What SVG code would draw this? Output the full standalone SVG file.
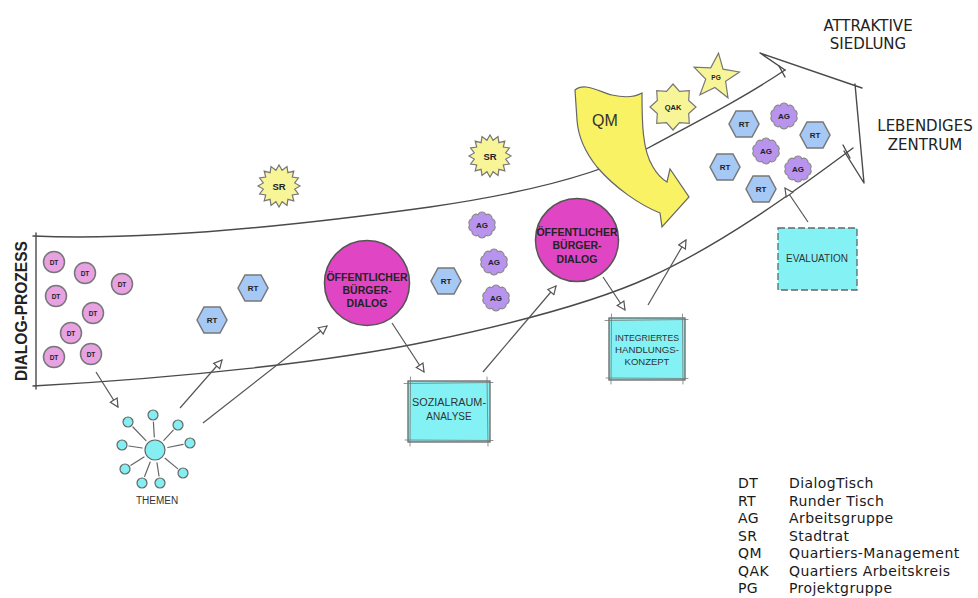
<svg xmlns="http://www.w3.org/2000/svg" width="978" height="598" viewBox="0 0 978 598">
<style>
.ln{fill:none;stroke:#4a4a4a;stroke-width:1.4;stroke-linecap:round;stroke-linejoin:round}
.sk{fill:none;stroke:#777;stroke-width:0.8;stroke-linecap:round}
.conn{fill:none;stroke:#555;stroke-width:1.2;marker-end:url(#ah)}
.dt{fill:#e8a2e2;stroke:#777;stroke-width:1.5}
.rt{fill:#a6c8f4;stroke:#777;stroke-width:1.5}
.ag{fill:#b994ee;stroke:#888;stroke-width:1.1}
.yel{fill:#f8f498;stroke:#777;stroke-width:1.2}
.qm{fill:#f8f264;stroke:#666;stroke-width:1.2}
.od{fill:#e046c4;stroke:#555;stroke-width:1.6}
.box{fill:#84f2f4;stroke:#666;stroke-width:1.3}
.th{fill:#84eef2;stroke:#666;stroke-width:1.2}
.sp{stroke:#666;stroke-width:1.2;stroke-linecap:round}
.b{font-family:"Liberation Sans",Arial,sans-serif;font-weight:bold;fill:#222;text-anchor:middle}
.t{font-family:"Liberation Sans",Arial,sans-serif;fill:#333;text-anchor:middle}
.big{font-family:"DejaVu Sans","Liberation Sans",sans-serif;fill:#222;text-anchor:middle;font-size:15px}
.lg{font-family:"DejaVu Sans","Liberation Sans",sans-serif;fill:#1a1a1a;font-size:14px;letter-spacing:0.4px}
</style>
<defs>
<marker id="ah" viewBox="0 0 10 10" refX="9" refY="5" markerWidth="10" markerHeight="10" markerUnits="userSpaceOnUse" orient="auto">
<path d="M1,1 L9,5 L1,9 Z" fill="#fff" stroke="#555" stroke-width="1.2"/>
</marker>
<path id="hex" d="M-15,0 L-8,-13 L8,-13 L15,0 L8,13 L-8,13 Z"/>
<path id="cloud" d="M12.5,0 A4.2,4.2 0 0 1 10.1,6.3 A4.2,4.2 0 0 1 3.9,10.3 A4.2,4.2 0 0 1 -3.9,10.3 A4.2,4.2 0 0 1 -10.1,6.3 A4.2,4.2 0 0 1 -12.5,0 A4.2,4.2 0 0 1 -10.1,-6.3 A4.2,4.2 0 0 1 -3.9,-10.3 A4.2,4.2 0 0 1 3.9,-10.3 A4.2,4.2 0 0 1 10.1,-6.3 A4.2,4.2 0 0 1 12.5,0 Z"/>
<polygon id="burst" points="21,0 15.7,3.1 19.4,8 13.3,8.9 14.8,14.8 8.9,13.3 8,19.4 3.1,15.7 0,21 -3.1,15.7 -8,19.4 -8.9,13.3 -14.8,14.8 -13.3,8.9 -19.4,8 -15.7,3.1 -21,0 -15.7,-3.1 -19.4,-8 -13.3,-8.9 -14.8,-14.8 -8.9,-13.3 -8,-19.4 -3.1,-15.7 0,-21 3.1,-15.7 8,-19.4 8.9,-13.3 14.8,-14.8 13.3,-8.9 19.4,-8 15.7,-3.1"/>
</defs>
<rect width="978" height="598" fill="#fff"/>

<g id="band">
<path class="ln" d="M33,236 C120,240 250,232 430,207 C520,194 600,175 650,147 C700,120 745,97 785,70"/>
<path class="ln" d="M33,386 C180,378 330,362 430,341 C530,320 600,300 650,277 C720,245 790,195 853,148"/>
<path class="ln" d="M36,233 L36,389"/>
<path class="ln" d="M785,70 L760,53 L862,88 M855,84 L864,183 L844,151"/>
<path class="ln" d="M779,66 L785,77 M843,145 L850,158"/>
</g>

<g id="connectors">
<path class="conn" d="M96,372 L118,407"/>
<path class="conn" d="M180,408 L222,360"/>
<path class="conn" d="M203,423 L327,326"/>
<path class="conn" d="M392,323 L424,372"/>
<path class="conn" d="M483,372 L556,286"/>
<path class="conn" d="M603,277 L625,310"/>
<path class="conn" d="M648,305 L686,240"/>
<path class="conn" d="M808,222 L785,188"/>
</g>

<g id="dialog-prozess-label">
<text class="b" transform="translate(27,311) rotate(-90)" font-size="17" textLength="140" lengthAdjust="spacingAndGlyphs" fill="#111">DIALOG-PROZESS</text>
</g>

<g id="dt-nodes">
<circle class="dt" cx="54" cy="262" r="10.5"/><text class="b" x="54" y="264.5" font-size="6.5">DT</text>
<circle class="dt" cx="85" cy="273" r="10.5"/><text class="b" x="85" y="275.5" font-size="6.5">DT</text>
<circle class="dt" cx="122" cy="284" r="10.5"/><text class="b" x="122" y="286.5" font-size="6.5">DT</text>
<circle class="dt" cx="56" cy="296" r="10.5"/><text class="b" x="56" y="298.5" font-size="6.5">DT</text>
<circle class="dt" cx="93" cy="313" r="10.5"/><text class="b" x="93" y="315.5" font-size="6.5">DT</text>
<circle class="dt" cx="71" cy="333" r="10.5"/><text class="b" x="71" y="335.5" font-size="6.5">DT</text>
<circle class="dt" cx="54" cy="357" r="10.5"/><text class="b" x="54" y="359.5" font-size="6.5">DT</text>
<circle class="dt" cx="91" cy="354" r="10.5"/><text class="b" x="91" y="356.5" font-size="6.5">DT</text>
</g>

<g id="themen">
<circle class="th" cx="155" cy="450" r="10"/>
<line class="sp" x1="146" y1="440.6" x2="132.9" y2="427"/>
<line class="sp" x1="154.3" y1="437" x2="153.4" y2="422"/>
<line class="sp" x1="163.8" y1="440.4" x2="173.3" y2="430.1"/>
<line class="sp" x1="142.2" y1="448" x2="128.9" y2="446"/>
<line class="sp" x1="167.7" y1="447.5" x2="183.1" y2="444.4"/>
<line class="sp" x1="144" y1="457" x2="130.9" y2="465.3"/>
<line class="sp" x1="165" y1="458.3" x2="177.6" y2="468.6"/>
<line class="sp" x1="150.2" y1="462" x2="144.6" y2="476.5"/>
<line class="sp" x1="157" y1="462.8" x2="159" y2="476"/>
<circle class="th" cx="128" cy="422" r="5"/>
<circle class="th" cx="153" cy="415" r="5"/>
<circle class="th" cx="178" cy="425" r="5"/>
<circle class="th" cx="122" cy="445" r="5"/>
<circle class="th" cx="190" cy="443" r="5"/>
<circle class="th" cx="125" cy="469" r="5"/>
<circle class="th" cx="183" cy="473" r="5"/>
<circle class="th" cx="142" cy="483" r="5"/>
<circle class="th" cx="160" cy="483" r="5"/>
<text class="t" x="157" y="504" font-size="10">THEMEN</text>
</g>

<g id="rt-1"><use href="#hex" class="rt" transform="translate(212,320)"/><text class="b" x="212" y="323" font-size="8">RT</text></g>
<g id="rt-2"><use href="#hex" class="rt" transform="translate(253,288)"/><text class="b" x="253" y="291" font-size="8">RT</text></g>

<g id="sr-1"><use href="#burst" class="yel" transform="translate(279,186)"/><text class="b" x="279" y="189.5" font-size="9.5">SR</text></g>
<g id="sr-2"><use href="#burst" class="yel" transform="translate(490,156)"/><text class="b" x="490" y="159.5" font-size="9.5">SR</text></g>

<g id="buergerdialog-1">
<circle class="od" cx="367" cy="283" r="42.5"/>
<text class="b" x="367" y="281" font-size="10.5" fill="#1a1a1a">ÖFFENTLICHER</text>
<text class="b" x="367" y="294" font-size="10.5" fill="#1a1a1a">BÜRGER-</text>
<text class="b" x="367" y="307" font-size="10.5" fill="#1a1a1a">DIALOG</text>
</g>

<g id="rt-3"><use href="#hex" class="rt" transform="translate(446,281)"/><text class="b" x="446" y="284" font-size="8">RT</text></g>
<g id="ag-1"><use href="#cloud" class="ag" transform="translate(482,225)"/><text class="b" x="482" y="228" font-size="8">AG</text></g>
<g id="ag-2"><use href="#cloud" class="ag" transform="translate(494,262)"/><text class="b" x="494" y="265" font-size="8">AG</text></g>
<g id="ag-3"><use href="#cloud" class="ag" transform="translate(496,298)"/><text class="b" x="496" y="301" font-size="8">AG</text></g>

<g id="buergerdialog-2">
<circle class="od" cx="577" cy="240" r="41.5"/>
<text class="b" x="577" y="236" font-size="10.5" fill="#1a1a1a">ÖFFENTLICHER</text>
<text class="b" x="577" y="249" font-size="10.5" fill="#1a1a1a">BÜRGER-</text>
<text class="b" x="577" y="263" font-size="10.5" fill="#1a1a1a">DIALOG</text>
</g>

<g id="sozialraumanalyse">
<rect class="box" x="408" y="381" width="82" height="61"/>
<path class="sk" d="M404,383.5 L493,382.5 M405,440 L493,440.5 M410.5,377 L410,446 M487,377 L488,446"/>
<text class="t" x="449" y="406" font-size="10" textLength="74" lengthAdjust="spacingAndGlyphs">SOZIALRAUM-</text>
<text class="t" x="449" y="420" font-size="10">ANALYSE</text>
</g>

<g id="integriertes-handlungskonzept">
<rect class="box" x="609" y="318" width="76" height="62"/>
<path class="sk" d="M605,320.5 L688,319.5 M606,378 L688,378.5 M611.5,314 L611,384 M682.5,314 L683,384"/>
<text class="t" x="647" y="341" font-size="9.5" textLength="64" lengthAdjust="spacingAndGlyphs">INTEGRIERTES</text>
<text class="t" x="647" y="353" font-size="9.5" textLength="64" lengthAdjust="spacingAndGlyphs">HANDLUNGS-</text>
<text class="t" x="647" y="365" font-size="9.5">KONZEPT</text>
</g>

<g id="qm">
<path class="qm" d="M575,90 C585,82 600,92 612,95 C625,98 635,97 642,93 C642,120 642,150 653,167 C657,174 662,179 667,182 L670,169 L689,197 L662,227 L660,213 C640,205 615,188 597,167 C585,152 578,135 577,120 Z"/>
<text class="t" x="605" y="126" font-size="16" fill="#222">QM</text>
</g>

<g id="qak">
<polygon class="yel" transform="translate(673,107)" points="0,-23 6.5,-15.7 16.3,-16.3 15.7,-6.5 23,0 15.7,6.5 16.3,16.3 6.5,15.7 0,23 -6.5,15.7 -16.3,16.3 -15.7,6.5 -23,0 -15.7,-6.5 -16.3,-16.3 -6.5,-15.7"/>
<text class="b" x="673" y="110" font-size="7.5">QAK</text>
</g>

<g id="pg">
<polygon class="yel" transform="translate(716,77) rotate(6)" points="0,-24 6.2,-8.5 22.8,-7.4 10,3.2 14.1,19.4 0,10.5 -14.1,19.4 -10,3.2 -22.8,-7.4 -6.2,-8.5"/>
<text class="b" x="716" y="80" font-size="6.5">PG</text>
</g>

<g id="rt-4"><use href="#hex" class="rt" transform="translate(744,124)"/><text class="b" x="744" y="127" font-size="8">RT</text></g>
<g id="rt-5"><use href="#hex" class="rt" transform="translate(815,135)"/><text class="b" x="815" y="138" font-size="8">RT</text></g>
<g id="rt-6"><use href="#hex" class="rt" transform="translate(725,167)"/><text class="b" x="725" y="170" font-size="8">RT</text></g>
<g id="rt-7"><use href="#hex" class="rt" transform="translate(761,189)"/><text class="b" x="761" y="192" font-size="8">RT</text></g>
<g id="ag-4"><use href="#cloud" class="ag" transform="translate(784,116)"/><text class="b" x="784" y="119" font-size="8">AG</text></g>
<g id="ag-5"><use href="#cloud" class="ag" transform="translate(766,151)"/><text class="b" x="766" y="154" font-size="8">AG</text></g>
<g id="ag-6"><use href="#cloud" class="ag" transform="translate(798,169)"/><text class="b" x="798" y="172" font-size="8">AG</text></g>

<g id="evaluation">
<rect class="box" x="778" y="228" width="79" height="62" stroke-dasharray="7 3"/>
<text class="t" x="817" y="262" font-size="10">EVALUATION</text>
</g>

<g id="goal-labels">
<text class="big" x="868" y="31">ATTRAKTIVE</text>
<text class="big" x="868" y="49">SIEDLUNG</text>
<text class="big" x="925" y="131">LEBENDIGES</text>
<text class="big" x="925" y="150">ZENTRUM</text>
</g>

<g id="legend">
<text class="lg" x="738" y="488">DT</text><text class="lg" x="789" y="488">DialogTisch</text>
<text class="lg" x="738" y="505.5">RT</text><text class="lg" x="789" y="505.5">Runder Tisch</text>
<text class="lg" x="738" y="523">AG</text><text class="lg" x="789" y="523">Arbeitsgruppe</text>
<text class="lg" x="738" y="540.5">SR</text><text class="lg" x="789" y="540.5">Stadtrat</text>
<text class="lg" x="738" y="558">QM</text><text class="lg" x="789" y="558">Quartiers-Management</text>
<text class="lg" x="738" y="575.5">QAK</text><text class="lg" x="789" y="575.5">Quartiers Arbeitskreis</text>
<text class="lg" x="738" y="593">PG</text><text class="lg" x="789" y="593">Projektgruppe</text>
</g>
</svg>
